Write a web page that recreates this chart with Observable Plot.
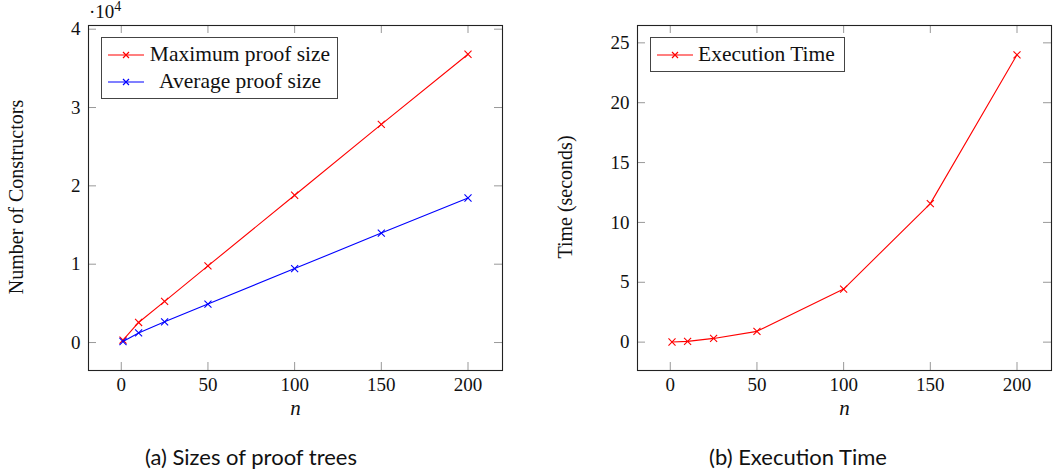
<!DOCTYPE html>
<html>
<head>
<meta charset="utf-8">
<script src="https://cdn.jsdelivr.net/npm/d3@7"></script>
<script src="https://cdn.jsdelivr.net/npm/@observablehq/plot@0.6"></script>
<style>
  html, body { margin: 0; padding: 0; background: #fff; }
  #wrap { position: relative; width: 1059px; height: 475px; overflow: hidden; font-family: "Liberation Serif", serif; color: #111; }
  .panel { position: absolute; top: 0; }
  .panel text { font-family: "Liberation Serif", serif !important; }
  .caption { position: absolute; top: 443px; font-family: "Lato", "Open Sans", sans-serif; font-size: 22px; color: #111; text-align: center; white-space: nowrap; }
  .legend { position: absolute; box-sizing: border-box; border: 1px solid #444; background: #fff; font-family: "Liberation Serif", serif; font-size: 21.5px; color: #111; padding: 3px 6px 3px 6px; white-space: nowrap; }
  .legend .row { display: flex; align-items: center; height: 27px; }
  .legend svg { margin-right: 5px; flex: none; }
  .ylab { position: absolute; font-family: "Liberation Serif", serif; font-size: 20px; white-space: nowrap; transform: translate(-50%, -50%) rotate(-90deg); }
  .scale { position: absolute; font-family: "Liberation Serif", serif; font-size: 19px; white-space: nowrap; }
  .scale sup { font-size: 14px; vertical-align: 7px; line-height: 0; }
</style>
</head>
<body>
<div id="wrap"></div>
<script>
// ---- data ----
const n = [1, 10, 25, 50, 100, 150, 200];
const maxProofSize = [300, 2560, 5250, 9780, 18800, 27850, 36800];
const avgProofSize = [130, 1230, 2640, 4910, 9440, 13970, 18450];
const execTime = [0.01, 0.06, 0.31, 0.9, 4.43, 11.57, 24.0];

const xTicks = [0, 50, 100, 150, 200];
const yTicksA = [0, 10000, 20000, 30000, 40000];
const yTickLabelsA = ["0", "1", "2", "3", "4"];
const yTicksB = [0, 5, 10, 15, 20, 25];

const seriesA = ["Maximum proof size", "Average proof size"];
const colorsA = ["#ff0000", "#0000ff"];
const seriesB = ["Execution Time"];
const colorsB = ["#ff0000"];

const captionA = "(a) Sizes of proof trees";
const captionB = "(b) Execution Time";
const yLabelA = "Number of Constructors";
const yLabelB = "Time (seconds)";
const xLabel = "n";

// ---- helpers ----
const FONT = "'Liberation Serif', serif";
const H = 430, MT = 25, MB = 60;
const innerH = H - MT - MB;
const tickLen = 8;
const tickColor = "#999";

function tickMarks(xt, yt, innerW) {
  return [
    Plot.ruleX(xt, {x: d => d, stroke: tickColor, strokeWidth: 1, insetTop: innerH - tickLen}),
    Plot.ruleX(xt, {x: d => d, stroke: tickColor, strokeWidth: 1, insetBottom: innerH - tickLen}),
    Plot.ruleY(yt, {y: d => d, stroke: tickColor, strokeWidth: 1, insetRight: innerW - tickLen}),
    Plot.ruleY(yt, {y: d => d, stroke: tickColor, strokeWidth: 1, insetLeft: innerW - tickLen})
  ];
}

function makePlot({width, ml, mr, xDomain, yDomain, yTicks, yFmt, series}) {
  const innerW = width - ml - mr;
  const marks = [
    ...tickMarks(xTicks, yTicks, innerW),
    Plot.axisX(xTicks, {tickSize: 0, tickPadding: 7, fontSize: 19, fontFamily: FONT, label: null, fill: "#111"}),
    Plot.axisY(yTicks, {tickSize: 0, tickPadding: 8, fontSize: 19, fontFamily: FONT, label: null, tickFormat: yFmt, fill: "#111"}),
  ];
  for (const s of series) {
    marks.push(Plot.line(s.data, {x: "n", y: "v", stroke: s.color, strokeWidth: 1.1}));
    marks.push(Plot.dot(s.data, {x: "n", y: "v", stroke: s.color, symbol: "times", r: 3.3, strokeWidth: 1.1}));
  }
  marks.push(Plot.frame({stroke: "#222", strokeWidth: 1.1}));
  marks.push(Plot.text([xLabel], {frameAnchor: "bottom", dy: 44, fontSize: 21, fontFamily: FONT, fontStyle: "italic", text: d => d, fill: "#111"}));
  return Plot.plot({
    width, height: H,
    marginLeft: ml, marginRight: mr, marginTop: MT, marginBottom: MB,
    style: {fontFamily: FONT, background: "transparent", overflow: "visible"},
    x: {domain: xDomain, axis: null},
    y: {domain: yDomain, axis: null},
    marks
  });
}

function toData(vals) { return n.map((x, i) => ({n: x, v: vals[i]})); }

const wrap = document.getElementById("wrap");

// Panel A
const plotA = makePlot({
  width: 530, ml: 88, mr: 28,
  xDomain: [-18.9, 219.9], yDomain: [-3570, 40470],
  yTicks: yTicksA, yFmt: (d, i) => yTickLabelsA[i],
  series: [
    {data: toData(maxProofSize), color: colorsA[0]},
    {data: toData(avgProofSize), color: colorsA[1]}
  ]
});
plotA.classList.add("panel");
plotA.style.left = "0px";
wrap.appendChild(plotA);

// Panel B
const plotB = makePlot({
  width: 529, ml: 107, mr: 8,
  xDomain: [-18.9, 219.9], yDomain: [-2.37, 26.45],
  yTicks: yTicksB, yFmt: d => String(d),
  series: [{data: toData(execTime), color: colorsB[0]}]
});
plotB.classList.add("panel");
plotB.style.left = "530px";
wrap.appendChild(plotB);

// y labels
function ylab(text, cx, cy) {
  const d = document.createElement("div");
  d.className = "ylab";
  d.textContent = text;
  d.style.left = cx + "px";
  d.style.top = cy + "px";
  wrap.appendChild(d);
}
ylab(yLabelA, 16, 197);
ylab(yLabelB, 565, 197);

// scale factor label
const sc = document.createElement("div");
sc.className = "scale";
sc.innerHTML = "·10<sup>4</sup>";
sc.style.left = "89px";
sc.style.top = "1px";
wrap.appendChild(sc);

// Legends
function legend(names, colors, left, top, width, centered) {
  const div = document.createElement("div");
  div.className = "legend";
  div.style.left = left + "px";
  div.style.top = top + "px";
  div.style.width = width + "px";
  names.forEach((name, i) => {
    const row = document.createElement("div");
    row.className = "row";
    row.innerHTML = `<svg width="36" height="10"><line x1="0" y1="5" x2="36" y2="5" stroke="${colors[i]}" stroke-width="1.2"/><path d="M15,2L21,8M21,2L15,8" stroke="${colors[i]}" stroke-width="1.2"/></svg><span style="flex:1;text-align:${centered ? "center" : "left"}">${name}</span>`;
    div.appendChild(row);
  });
  wrap.appendChild(div);
}
legend(seriesA, colorsA, 101, 37, 237, true);
legend(seriesB, colorsB, 650, 37, 195, false);

// Captions
function caption(text, cx) {
  const d = document.createElement("div");
  d.className = "caption";
  d.textContent = text;
  d.style.left = (cx - 150) + "px";
  d.style.width = "300px";
  wrap.appendChild(d);
}
caption(captionA, 251);
caption(captionB, 798);
</script>
</body>
</html>
